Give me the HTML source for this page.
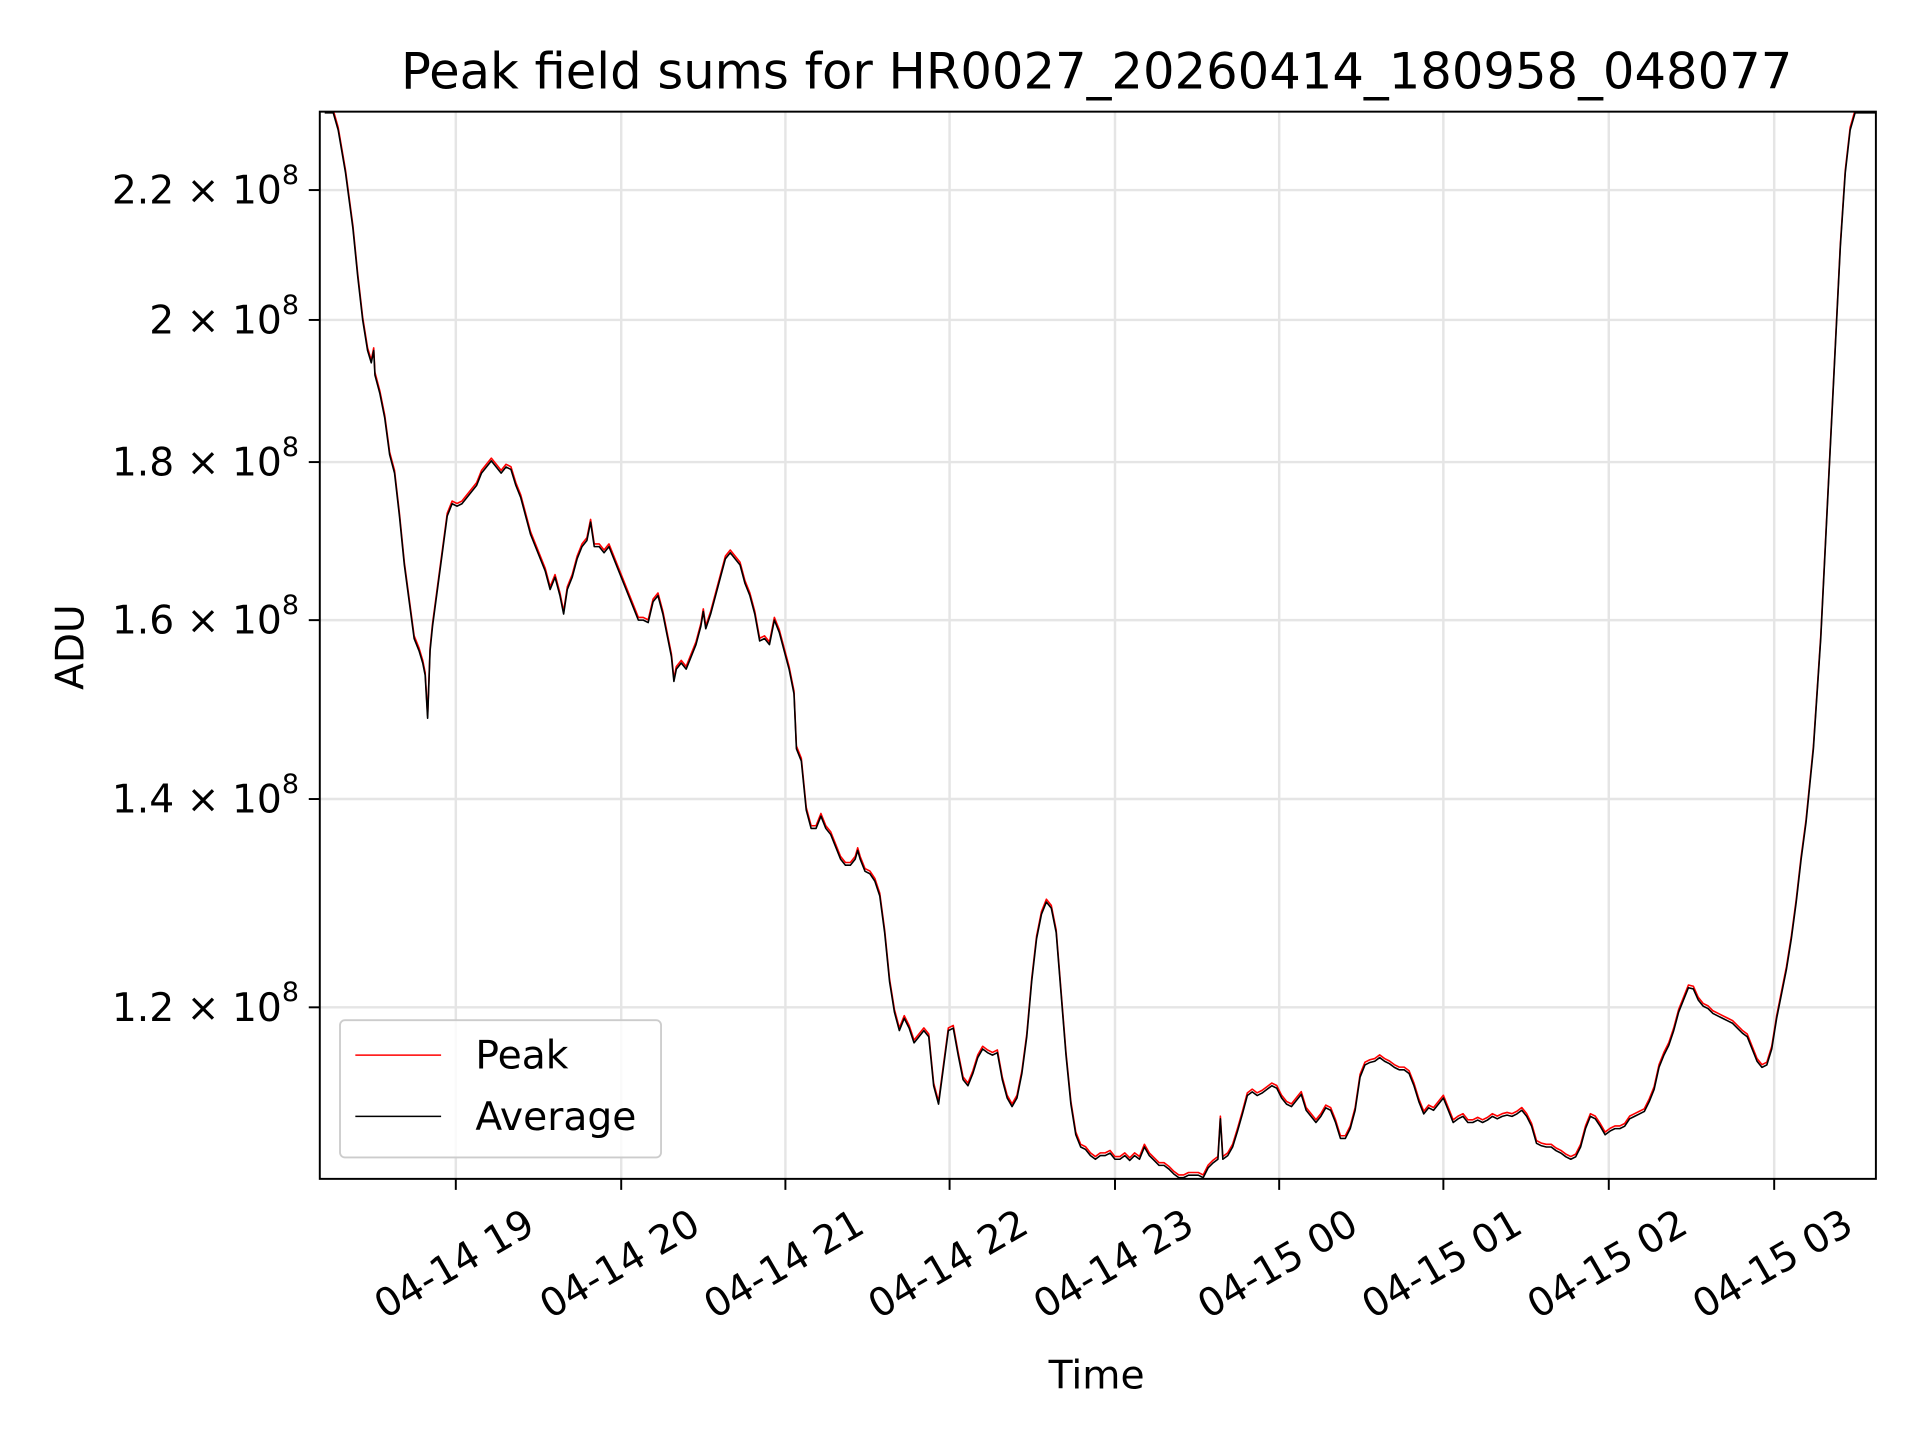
<!DOCTYPE html>
<html><head><meta charset="utf-8"><style>html,body{margin:0;padding:0;background:#fff}svg{display:block}</style></head>
<body>
<svg width="1920" height="1440" viewBox="0 0 1567 1175" xmlns="http://www.w3.org/2000/svg" font-family="'DejaVu Sans','Liberation Sans',sans-serif">
<rect width="1567" height="1175" fill="#fff"/>
<g stroke="#e5e5e5" stroke-width="2">
<line x1="372" y1="91" x2="372" y2="962"/><line x1="507" y1="91" x2="507" y2="962"/><line x1="641" y1="91" x2="641" y2="962"/><line x1="775" y1="91" x2="775" y2="962"/><line x1="910" y1="91" x2="910" y2="962"/><line x1="1044" y1="91" x2="1044" y2="962"/><line x1="1178" y1="91" x2="1178" y2="962"/><line x1="1313" y1="91" x2="1313" y2="962"/><line x1="1448" y1="91" x2="1448" y2="962"/>
<line x1="261" y1="155" x2="1531" y2="155"/><line x1="261" y1="261" x2="1531" y2="261"/><line x1="261" y1="377" x2="1531" y2="377"/><line x1="261" y1="506" x2="1531" y2="506"/><line x1="261" y1="652" x2="1531" y2="652"/><line x1="261" y1="822" x2="1531" y2="822"/>
</g>
<defs><clipPath id="c"><rect x="261" y="91" width="1270" height="871"/></clipPath>
<polyline id="p" points="265,91 272,91 276,105 282,140 288,185 292,225 296,260 300,285 303,295 305,285 306,305 310,320 314,340 318,370 322,385 326,420 330,460 334,490 338,520 342,530 345,540 347,550 349,585 351,530 353,510 357,480 361,450 365,420 369,410 373,412 377,410 381,405 385,400 389,395 393,385 397,380 401,375 405,380 409,385 413,380 417,382 421,395 425,405 429,420 433,435 437,445 441,455 445,465 449,480 453,470 457,485 460,500 463,480 467,470 471,455 475,445 479,440 482,425 485,445 489,445 493,450 497,445 501,455 505,465 509,475 513,485 517,495 521,505 525,505 529,507 533,490 537,485 541,500 545,520 548,535 550,555 552,545 556,540 560,545 564,535 568,525 572,510 574,498 576,512 580,500 584,485 588,470 592,455 596,450 600,455 604,460 608,475 612,485 616,500 620,522 624,520 628,525 632,505 636,515 640,530 644,545 648,565 650,610 654,620 658,660 662,675 666,675 670,665 674,675 678,680 682,690 686,700 690,705 694,705 698,700 700,693 702,700 706,710 710,712 714,718 718,730 722,760 726,800 730,825 734,840 738,830 742,838 746,850 750,845 754,840 758,845 762,885 766,900 770,870 774,840 778,838 782,860 786,880 790,885 794,875 798,862 802,855 806,858 810,860 814,858 818,880 822,895 826,902 830,895 834,875 838,845 842,800 846,765 850,745 854,735 858,740 862,760 866,810 870,860 874,900 878,925 882,935 886,937 890,942 894,945 898,942 902,942 906,940 910,945 914,945 918,942 922,946 926,942 930,945 934,935 938,942 942,946 946,950 950,950 954,953 958,957 962,960 966,960 970,958 974,958 978,958 982,960 986,952 990,948 994,945 996,912 998,945 1002,942 1006,935 1010,922 1014,908 1018,893 1022,890 1026,893 1030,891 1034,888 1038,885 1042,887 1046,895 1050,900 1054,902 1058,897 1062,892 1066,905 1070,910 1074,915 1078,910 1082,903 1086,905 1090,915 1094,928 1098,928 1102,920 1106,905 1110,878 1114,868 1118,866 1122,865 1126,862 1130,865 1134,867 1138,870 1142,872 1146,872 1150,875 1154,885 1158,898 1162,908 1166,903 1170,905 1174,900 1178,895 1182,905 1186,915 1190,912 1194,910 1198,915 1202,915 1206,913 1210,915 1214,913 1218,910 1222,912 1226,910 1230,909 1234,910 1238,908 1242,905 1246,910 1250,918 1254,932 1258,934 1262,935 1266,935 1270,938 1274,940 1278,943 1282,945 1286,943 1290,935 1294,920 1298,910 1302,912 1306,918 1310,925 1314,922 1318,920 1322,920 1326,918 1330,912 1334,910 1338,908 1342,906 1346,898 1350,888 1354,870 1358,860 1362,852 1366,840 1370,825 1374,815 1378,805 1382,806 1386,815 1390,820 1394,822 1398,826 1402,828 1406,830 1410,832 1414,834 1418,838 1422,842 1426,845 1430,855 1434,865 1438,870 1442,868 1446,855 1450,830 1454,810 1458,790 1462,765 1466,735 1470,700 1474,670 1478,630 1480,610 1482,580 1486,520 1490,440 1494,360 1498,280 1502,200 1506,140 1510,105 1514,91 1531,91"/>
</defs>
<g clip-path="url(#c)" fill="none" stroke-width="1.3" stroke-linejoin="round">
<use href="#p" stroke="#f00" transform="translate(0,-1.2)"/>
<use href="#p" stroke="#000" transform="translate(0,1)"/>
</g>
<rect x="261" y="91" width="1270" height="871" fill="none" stroke="#000" stroke-width="1.6"/>
<g stroke="#000" stroke-width="1.6">
<line x1="372" y1="962" x2="372" y2="971"/><line x1="507" y1="962" x2="507" y2="971"/><line x1="641" y1="962" x2="641" y2="971"/><line x1="775" y1="962" x2="775" y2="971"/><line x1="910" y1="962" x2="910" y2="971"/><line x1="1044" y1="962" x2="1044" y2="971"/><line x1="1178" y1="962" x2="1178" y2="971"/><line x1="1313" y1="962" x2="1313" y2="971"/><line x1="1448" y1="962" x2="1448" y2="971"/>
<line x1="252" y1="155" x2="261" y2="155"/><line x1="252" y1="261" x2="261" y2="261"/><line x1="252" y1="377" x2="261" y2="377"/><line x1="252" y1="506" x2="261" y2="506"/><line x1="252" y1="652" x2="261" y2="652"/><line x1="252" y1="822" x2="261" y2="822"/>
</g>
<g font-size="32" fill="#000" text-anchor="end">
<text x="244" y="166">2.2 × 10<tspan font-size="22" dy="-16">8</tspan></text>
<text x="244" y="272">2 × 10<tspan font-size="22" dy="-16">8</tspan></text>
<text x="244" y="388">1.8 × 10<tspan font-size="22" dy="-16">8</tspan></text>
<text x="244" y="517">1.6 × 10<tspan font-size="22" dy="-16">8</tspan></text>
<text x="244" y="663">1.4 × 10<tspan font-size="22" dy="-16">8</tspan></text>
<text x="244" y="833">1.2 × 10<tspan font-size="22" dy="-16">8</tspan></text>
</g>
<g font-size="32" fill="#000" text-anchor="middle" dominant-baseline="central">
<text transform="translate(371,1032) rotate(-30)">04-14 19</text>
<text transform="translate(506,1032) rotate(-30)">04-14 20</text>
<text transform="translate(640,1032) rotate(-30)">04-14 21</text>
<text transform="translate(774,1032) rotate(-30)">04-14 22</text>
<text transform="translate(909,1032) rotate(-30)">04-14 23</text>
<text transform="translate(1043,1032) rotate(-30)">04-15 00</text>
<text transform="translate(1177,1032) rotate(-30)">04-15 01</text>
<text transform="translate(1312,1032) rotate(-30)">04-15 02</text>
<text transform="translate(1447,1032) rotate(-30)">04-15 03</text>
</g>
<text x="895" y="1133" font-size="32" text-anchor="middle">Time</text>
<text transform="translate(68,528) rotate(-90)" font-size="32" text-anchor="middle">ADU</text>
<text x="895" y="72" font-size="40.5" text-anchor="middle">Peak field sums for HR0027_20260414_180958_048077</text>
<rect x="277.5" y="832.5" width="262" height="112" rx="4" fill="#fff" fill-opacity="0.8" stroke="#ccc" stroke-width="1.5"/>
<line x1="290" y1="861" x2="360" y2="861" stroke="#f00" stroke-width="1.3"/>
<line x1="290" y1="911" x2="360" y2="911" stroke="#000" stroke-width="1.3"/>
<text x="388" y="872" font-size="32">Peak</text>
<text x="388" y="922" font-size="32">Average</text>
</svg>
</body></html>
